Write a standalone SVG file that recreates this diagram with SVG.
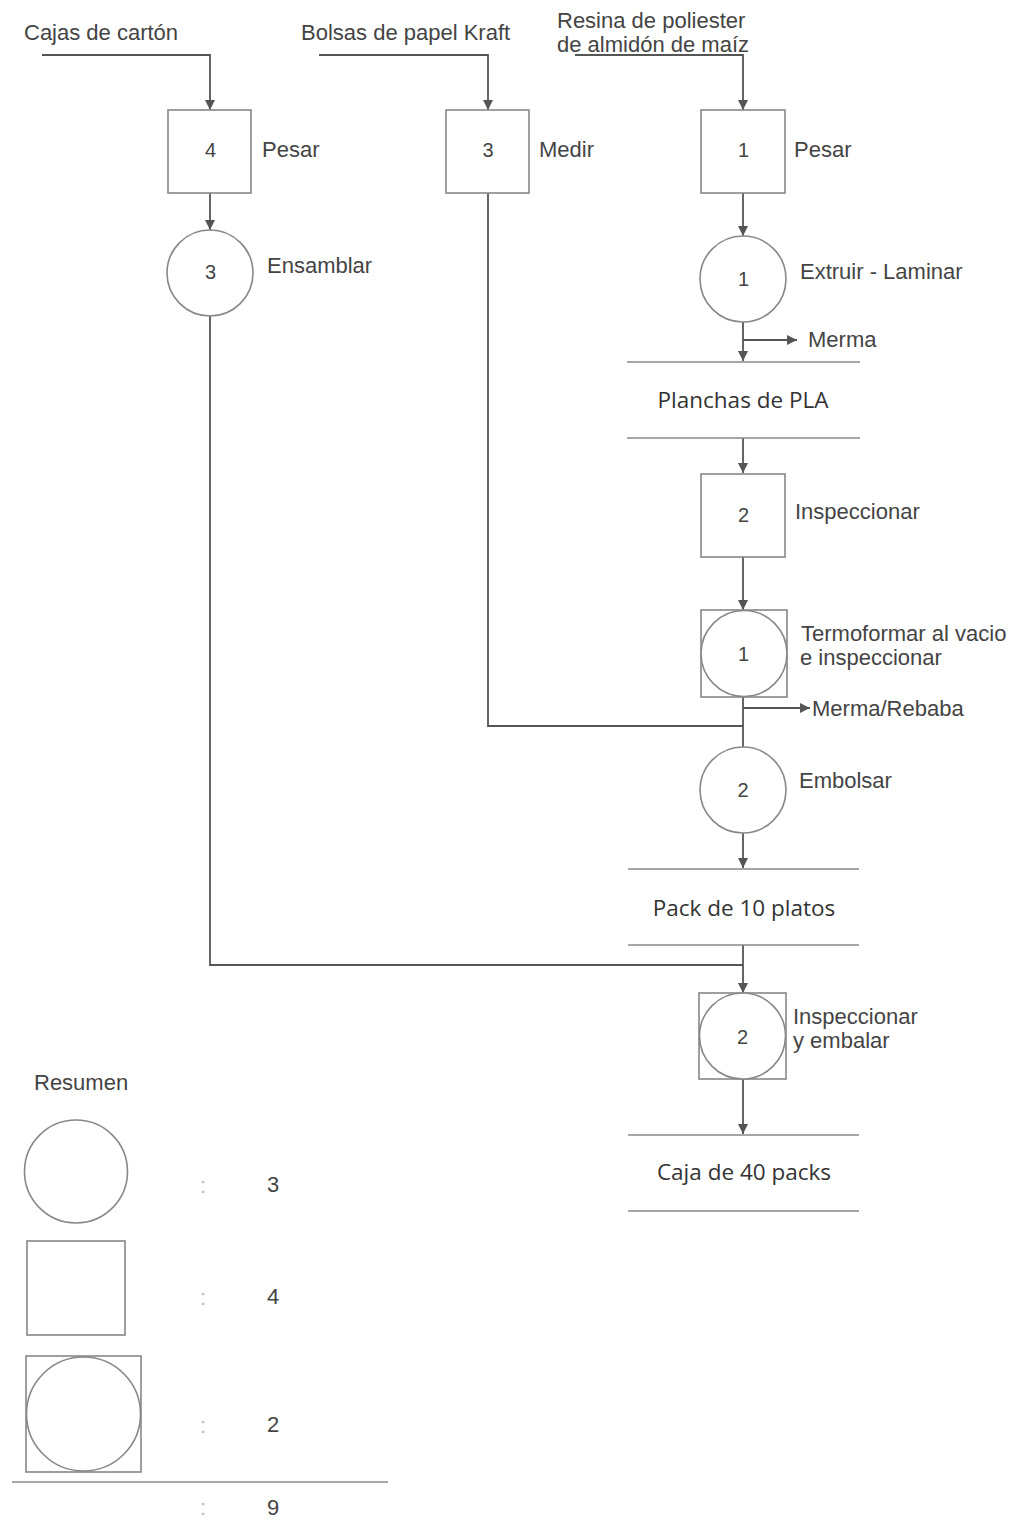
<svg xmlns="http://www.w3.org/2000/svg" width="1019" height="1519" viewBox="0 0 1019 1519">
<style>
.bg{fill:#fff}
.shape{fill:#fff;stroke:#888;stroke-width:1.6}
.line{fill:none;stroke:#555;stroke-width:1.8}
.store{fill:none;stroke:#888;stroke-width:1.6}
.t{font-family:"Liberation Sans",Arial,sans-serif;font-size:22px;fill:#444}
.n{font-family:"Liberation Sans",Arial,sans-serif;font-size:20px;fill:#444;text-anchor:middle}
.c{font-family:"Open Sans","Noto Sans",sans-serif;font-size:22.5px;fill:#333;text-anchor:middle}
.col{font-family:"Liberation Sans",Arial,sans-serif;font-size:22px;fill:#bbb;text-anchor:middle}
</style>
<defs>
<marker id="arr" viewBox="0 0 10 10" refX="10" refY="5" markerWidth="12" markerHeight="10" markerUnits="userSpaceOnUse" orient="auto">
<path d="M0,0 L10,5 L0,10 z" fill="#555"/>
</marker>
</defs>
<rect class="bg" x="0" y="0" width="1019" height="1519"/>

<g id="connectors">
<path class="line" d="M42,55 H210 V110" marker-end="url(#arr)"/>
<path class="line" d="M210,193 V230" marker-end="url(#arr)"/>
<path class="line" d="M210,316 V965 H743"/>
<path class="line" d="M319,55 H488 V110" marker-end="url(#arr)"/>
<path class="line" d="M488,193 V726 H743"/>
<path class="line" d="M575,55 H743 V110" marker-end="url(#arr)"/>
<path class="line" d="M743,193 V236" marker-end="url(#arr)"/>
<path class="line" d="M743,322 V361" marker-end="url(#arr)"/>
<path class="line" d="M743,340 H797" marker-end="url(#arr)"/>
<path class="line" d="M743,438 V473" marker-end="url(#arr)"/>
<path class="line" d="M743,557 V610" marker-end="url(#arr)"/>
<path class="line" d="M743,697 V747"/>
<path class="line" d="M743,708 H810" marker-end="url(#arr)"/>
<path class="line" d="M743,833 V868" marker-end="url(#arr)"/>
<path class="line" d="M743,945 V993" marker-end="url(#arr)"/>
<path class="line" d="M743,1079 V1134" marker-end="url(#arr)"/>
</g>

<g id="in-cajas"><text class="t" x="24" y="40">Cajas de cartón</text></g>
<g id="in-bolsas"><text class="t" x="301" y="40">Bolsas de papel Kraft</text></g>
<g id="in-resina"><text class="t" x="557" y="28">Resina de poliester</text><text class="t" x="557" y="52">de almidón de maíz</text></g>

<g id="insp4"><rect class="shape" x="168" y="110" width="83" height="83"/><text class="n" x="210.5" y="157">4</text><text class="t" x="262" y="157">Pesar</text></g>
<g id="op3"><circle class="shape" cx="210" cy="273" r="43"/><text class="n" x="210.5" y="279">3</text><text class="t" x="267" y="273">Ensamblar</text></g>

<g id="insp3"><rect class="shape" x="446" y="110" width="83" height="83"/><text class="n" x="488" y="157">3</text><text class="t" x="539" y="157">Medir</text></g>

<g id="insp1"><rect class="shape" x="701" y="110" width="84" height="83"/><text class="n" x="743.5" y="157">1</text><text class="t" x="794" y="157">Pesar</text></g>
<g id="op1"><circle class="shape" cx="743" cy="279" r="43"/><text class="n" x="743.5" y="286">1</text><text class="t" x="800" y="279">Extruir - Laminar</text></g>
<g id="merma1"><text class="t" x="808" y="347">Merma</text></g>

<g id="st-planchas"><line class="store" x1="627" y1="362" x2="860" y2="362"/><text class="c" x="743" y="408">Planchas de PLA</text><line class="store" x1="627" y1="438" x2="860" y2="438"/></g>

<g id="insp2"><rect class="shape" x="701" y="474" width="84" height="83"/><text class="n" x="743.5" y="522">2</text><text class="t" x="795" y="519">Inspeccionar</text></g>

<g id="comb1"><rect class="shape" x="701" y="610" width="86" height="87"/><circle class="shape" cx="744" cy="653.5" r="43"/><text class="n" x="743.5" y="661">1</text><text class="t" x="801" y="641">Termoformar al vacio</text><text class="t" x="800" y="665">e inspeccionar</text></g>
<g id="merma2"><text class="t" x="812" y="716">Merma/Rebaba</text></g>

<g id="op2"><circle class="shape" cx="743" cy="790" r="43"/><text class="n" x="743" y="797">2</text><text class="t" x="799" y="788">Embolsar</text></g>

<g id="st-pack"><line class="store" x1="628" y1="869" x2="859" y2="869"/><text class="c" x="744" y="916">Pack de 10 platos</text><line class="store" x1="628" y1="945" x2="859" y2="945"/></g>

<g id="comb2"><rect class="shape" x="699" y="993" width="87" height="86"/><circle class="shape" cx="742.5" cy="1036" r="43"/><text class="n" x="742.5" y="1044">2</text><text class="t" x="793" y="1024">Inspeccionar</text><text class="t" x="793" y="1048">y embalar</text></g>

<g id="st-caja"><line class="store" x1="628" y1="1135" x2="859" y2="1135"/><text class="c" x="744" y="1180">Caja de 40 packs</text><line class="store" x1="628" y1="1211" x2="859" y2="1211"/></g>

<g id="resumen">
<text class="t" x="34" y="1090">Resumen</text>
<circle class="shape" cx="76" cy="1171.5" r="51.5"/>
<rect class="shape" x="27" y="1241" width="98" height="94"/>
<rect class="shape" x="26" y="1356" width="115" height="116"/>
<circle class="shape" cx="83.5" cy="1414" r="57"/>
<line class="store" x1="12" y1="1482" x2="388" y2="1482"/>
<text class="col" x="203" y="1193">:</text>
<text class="col" x="203" y="1305">:</text>
<text class="col" x="203" y="1433">:</text>
<text class="col" x="203" y="1515">:</text>
<text class="t" x="273" y="1192" text-anchor="middle">3</text>
<text class="t" x="273" y="1304" text-anchor="middle">4</text>
<text class="t" x="273" y="1432" text-anchor="middle">2</text>
<text class="t" x="273" y="1515" text-anchor="middle">9</text>
</g>
</svg>
